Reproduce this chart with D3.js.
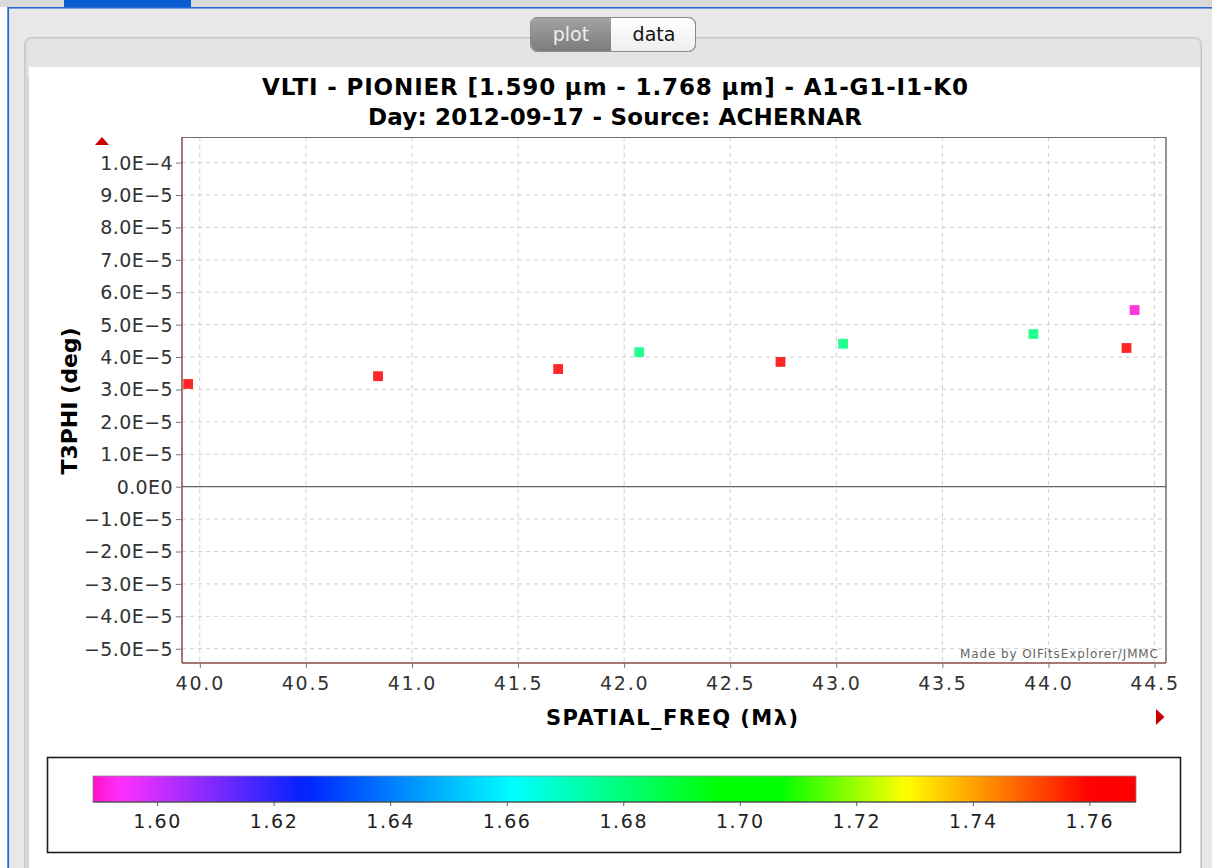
<!DOCTYPE html>
<html><head><meta charset="utf-8">
<script src="https://cdn.jsdelivr.net/npm/d3@7"></script>
<style>
body{margin:0;background:#fff;overflow:hidden}
svg{display:block}
text{font-family:"DejaVu Sans",Verdana,sans-serif}
</style>
</head><body>
<script>
// ---------- data ----------
const titleLines = ["VLTI - PIONIER [1.590 µm - 1.768 µm] - A1-G1-I1-K0", "Day: 2012-09-17 - Source: ACHERNAR"];
const xLabel = "SPATIAL_FREQ (Mλ)";
const yLabel = "T3PHI (deg)";
const credit = "Made by OIFitsExplorer/JMMC";
const tabs = ["plot", "data"];

const spatialFreq = [39.945, 40.840, 41.689, 42.071, 42.737, 43.032, 43.929, 44.368, 44.406];
const t3phi       = [3.17e-5, 3.41e-5, 3.63e-5, 4.15e-5, 3.85e-5, 4.41e-5, 4.71e-5, 4.28e-5, 5.45e-5];
const wavelength  = [1.768, 1.768, 1.768, 1.679, 1.768, 1.679, 1.679, 1.768, 1.590];

const xDomain = [39.916, 44.554];
const yDomain = [-5.44e-5, 1.079e-4];
const xTicks = [40.0, 40.5, 41.0, 41.5, 42.0, 42.5, 43.0, 43.5, 44.0, 44.5];
const yTicks = [-5e-5, -4e-5, -3e-5, -2e-5, -1e-5, 0, 1e-5, 2e-5, 3e-5, 4e-5, 5e-5, 6e-5, 7e-5, 8e-5, 9e-5, 1e-4];

const legendDomain = [1.589, 1.768];
const legendTicks = [1.60, 1.62, 1.64, 1.66, 1.68, 1.70, 1.72, 1.74, 1.76];
const colorStops  = [1.589, 1.5938, 1.6254, 1.6611, 1.6968, 1.7069, 1.7285, 1.7390, 1.7601, 1.768];
const colorValues = ["#ff10c8", "#ff30ff", "#0022ff", "#00ffff", "#00ff00", "#00ff00", "#ffff00", "#ffaa00", "#ff0000", "#ff0000"];

// ---------- layout ----------
const W = 1212, H = 868;
const plot = {left: 182, right: 1166, top: 137, bottom: 663};

const svg = d3.select("body").append("svg").attr("width", W).attr("height", H);
const defs = svg.append("defs");

// window chrome
svg.append("rect").attr("width", W).attr("height", H).attr("fill", "#e8e8e8");
svg.append("rect").attr("x", 0).attr("y", 7).attr("width", 7.5).attr("height", H).attr("fill", "#ffffff");
svg.append("rect").attr("x", 0).attr("y", 0).attr("width", W).attr("height", 7).attr("fill", "#d9d9d9");
svg.append("rect").attr("x", 64).attr("y", 0).attr("width", 127).attr("height", 8).attr("fill", "#0b5bd3");
svg.append("rect").attr("x", 7.5).attr("y", 7).attr("width", W).attr("height", 1.6).attr("fill", "#2a6cd4");
svg.append("rect").attr("x", 7.3).attr("y", 7).attr("width", 1.8).attr("height", H).attr("fill", "#2a6cd4");

// panel
svg.append("rect").attr("x", 24.5).attr("y", 37.5).attr("width", 1177).attr("height", 900)
  .attr("rx", 7).attr("fill", "#d6d6d6").attr("stroke", "#c6c6c6");
svg.append("rect").attr("x", 27).attr("y", 39).attr("width", 1173).attr("height", 40)
  .attr("rx", 5).attr("fill", "#e4e4e4");
svg.append("rect").attr("x", 29).attr("y", 67).attr("width", 1171).attr("height", H).attr("fill", "#ffffff");

// tab buttons
const tabG = svg.append("g");
const tabGrad = defs.append("linearGradient").attr("id", "tabOn").attr("x1", 0).attr("y1", 0).attr("x2", 0).attr("y2", 1);
tabGrad.append("stop").attr("offset", "0%").attr("stop-color", "#a2a2a2");
tabGrad.append("stop").attr("offset", "100%").attr("stop-color", "#7c7c7c");
const tabGrad2 = defs.append("linearGradient").attr("id", "tabOff").attr("x1", 0).attr("y1", 0).attr("x2", 0).attr("y2", 1);
tabGrad2.append("stop").attr("offset", "0%").attr("stop-color", "#ffffff");
tabGrad2.append("stop").attr("offset", "100%").attr("stop-color", "#eeeeee");
tabG.append("rect").attr("x", 530.5).attr("y", 17.5).attr("width", 165).attr("height", 34).attr("rx", 7)
  .attr("fill", "url(#tabOff)").attr("stroke", "#8e8e8e");
tabG.append("path").attr("d", "M611,18 H538 A7,7 0 0 0 531,25 V44 A7,7 0 0 0 538,51 H611 Z").attr("fill", "url(#tabOn)");
tabG.append("rect").attr("x", 530.5).attr("y", 17.5).attr("width", 165).attr("height", 34).attr("rx", 7)
  .attr("fill", "none").attr("stroke", "#8a8a8a");
tabG.selectAll("text.tab").data(tabs).join("text").attr("class", "tab")
  .attr("x", (d, i) => i === 0 ? 571 : 654).attr("y", 41).attr("text-anchor", "middle")
  .attr("font-size", 19).attr("fill", (d, i) => i === 0 ? "#eeeeee" : "#111").text(d => d);

// ---------- scales ----------
const x = d3.scaleLinear().domain(xDomain).range([plot.left, plot.right]);
const y = d3.scaleLinear().domain(yDomain).range([plot.bottom, plot.top]);
const cmap = d3.scaleLinear().domain(colorStops).range(colorValues).interpolate(d3.interpolateRgb).clamp(true);

function sciFmt(v) {
  if (v === 0) return "0.0E0";
  const e = Math.floor(Math.log10(Math.abs(v)) + 1e-9);
  const m = v / Math.pow(10, e);
  return (m.toFixed(1) + "E" + e).replace(/-/g, "\u2212");
}

// titles
svg.selectAll("text.title").data(titleLines).join("text").attr("class", "title")
  .attr("x", 615).attr("y", (d, i) => i === 0 ? 95 : 125)
  .attr("text-anchor", "middle").attr("font-size", 23).attr("font-weight", "bold").attr("fill", "#000")
  .attr("textLength", (d, i) => i === 0 ? 706 : 494).attr("lengthAdjust", "spacing")
  .text(d => d);

// grid
const grid = svg.append("g");
grid.selectAll("line.vg").data(xTicks).join("line").attr("class", "vg")
  .attr("x1", d => x(d)).attr("x2", d => x(d)).attr("y1", plot.top).attr("y2", plot.bottom)
  .attr("stroke", "#cfcfcf").attr("stroke-dasharray", "4,4");
grid.selectAll("line.hg").data(yTicks.filter(d => d !== 0)).join("line").attr("class", "hg")
  .attr("y1", d => y(d)).attr("y2", d => y(d)).attr("x1", plot.left).attr("x2", plot.right)
  .attr("stroke", "#cfcfcf").attr("stroke-dasharray", "4,4");
grid.append("line").attr("x1", plot.left).attr("x2", plot.right).attr("y1", y(0)).attr("y2", y(0))
  .attr("stroke", "#606060").attr("stroke-width", 1.2);

// credit
svg.append("text").attr("x", 1158).attr("y", 658).attr("text-anchor", "end")
  .attr("font-size", 12).attr("fill", "#666").attr("textLength", 198).attr("lengthAdjust", "spacing").text(credit);

// points
const pts = spatialFreq.map((f, i) => ({f, v: t3phi[i], w: wavelength[i]}));
const S = 9.8;
svg.append("g").selectAll("rect").data(pts).join("rect")
  .attr("x", d => x(d.f) - S / 2).attr("y", d => y(d.v) - S / 2)
  .attr("width", S).attr("height", S)
  .attr("fill", d => cmap(d.w)).attr("fill-opacity", 0.85);

// frame
svg.append("line").attr("x1", plot.left).attr("x2", plot.right).attr("y1", plot.top + 0.5).attr("y2", plot.top + 0.5)
  .attr("stroke", "#7a6a6a").attr("stroke-width", 1.2);
svg.append("line").attr("x1", plot.right).attr("x2", plot.right).attr("y1", plot.top).attr("y2", plot.bottom)
  .attr("stroke", "#777").attr("stroke-width", 1.6);

// axes
const yAxis = d3.axisLeft(y).tickValues(yTicks).tickSize(6).tickPadding(3).tickFormat(sciFmt);
const gy = svg.append("g").attr("transform", `translate(${plot.left},0)`).call(yAxis);
const xAxis = d3.axisBottom(x).tickValues(xTicks).tickSize(5).tickPadding(8).tickFormat(d3.format(".1f"));
const gx = svg.append("g").attr("transform", `translate(0,${plot.bottom})`).call(xAxis);
[gx, gy].forEach(g => {
  g.select(".domain").attr("stroke", "#8c4848").attr("stroke-width", 1.5);
  g.selectAll(".tick line").attr("stroke", "#777");
  g.selectAll(".tick text").attr("font-size", 19).attr("fill", "#333").attr("font-family", "DejaVu Sans");
});
gy.select(".domain").attr("d", `M0,${plot.top}V${plot.bottom}`);
gx.select(".domain").attr("d", `M${plot.left},0H${plot.right}`);
gy.selectAll(".tick text").attr("letter-spacing", 0.4).attr("dy", "0.34em");
gx.selectAll(".tick text").attr("letter-spacing", 1.8).attr("dy", "0.73em");

// axis labels
svg.append("text").attr("x", 672).attr("y", 725).attr("text-anchor", "middle")
  .attr("font-size", 21).attr("font-weight", "bold").attr("fill", "#000")
  .attr("textLength", 252).attr("lengthAdjust", "spacing").text(xLabel);
svg.append("text").attr("transform", "translate(77,401) rotate(-90)").attr("text-anchor", "middle")
  .attr("font-size", 22).attr("font-weight", "bold").attr("fill", "#000").text(yLabel);

// red arrows
svg.append("path").attr("d", "M95,145 L102,137 L109,145 Z").attr("fill", "#cc0000");
svg.append("path").attr("d", "M1156,709 L1164.5,717 L1156,725 Z").attr("fill", "#cc0000");

// ---------- colour legend ----------
const lg = svg.append("g");
lg.append("rect").attr("x", 47.5).attr("y", 757.5).attr("width", 1133).attr("height", 95)
  .attr("fill", "#fff").attr("stroke", "#1e1e1e").attr("stroke-width", 1.6);
const lx = d3.scaleLinear().domain(legendDomain).range([93, 1136]);
const grad = defs.append("linearGradient").attr("id", "cbar").attr("x1", 0).attr("x2", 1).attr("y1", 0).attr("y2", 0);
const nStops = 120;
grad.selectAll("stop").data(d3.range(nStops + 1)).join("stop")
  .attr("offset", d => (d / nStops * 100) + "%")
  .attr("stop-color", d => cmap(legendDomain[0] + d / nStops * (legendDomain[1] - legendDomain[0])));
lg.append("rect").attr("x", lx(legendDomain[0])).attr("y", 776).attr("width", lx(legendDomain[1]) - lx(legendDomain[0]))
  .attr("height", 26).attr("fill", "url(#cbar)").attr("stroke", "#8a8a8a").attr("stroke-width", 0.8);
lg.append("line").attr("x1", lx(legendDomain[0])).attr("x2", lx(legendDomain[1])).attr("y1", 802).attr("y2", 802)
  .attr("stroke", "#333").attr("stroke-width", 1.2);
const lAxis = d3.axisBottom(lx).tickValues(legendTicks).tickSize(4).tickPadding(8).tickFormat(d3.format(".2f"));
const gl = lg.append("g").attr("transform", "translate(0,802)").call(lAxis);
gl.select(".domain").remove();
gl.selectAll(".tick line").attr("stroke", "#555");
gl.selectAll(".tick text").attr("font-size", 19).attr("fill", "#222").attr("letter-spacing", 1.6)
  .attr("font-family", "DejaVu Sans").attr("dy", "0.73em");
</script>
</body></html>
